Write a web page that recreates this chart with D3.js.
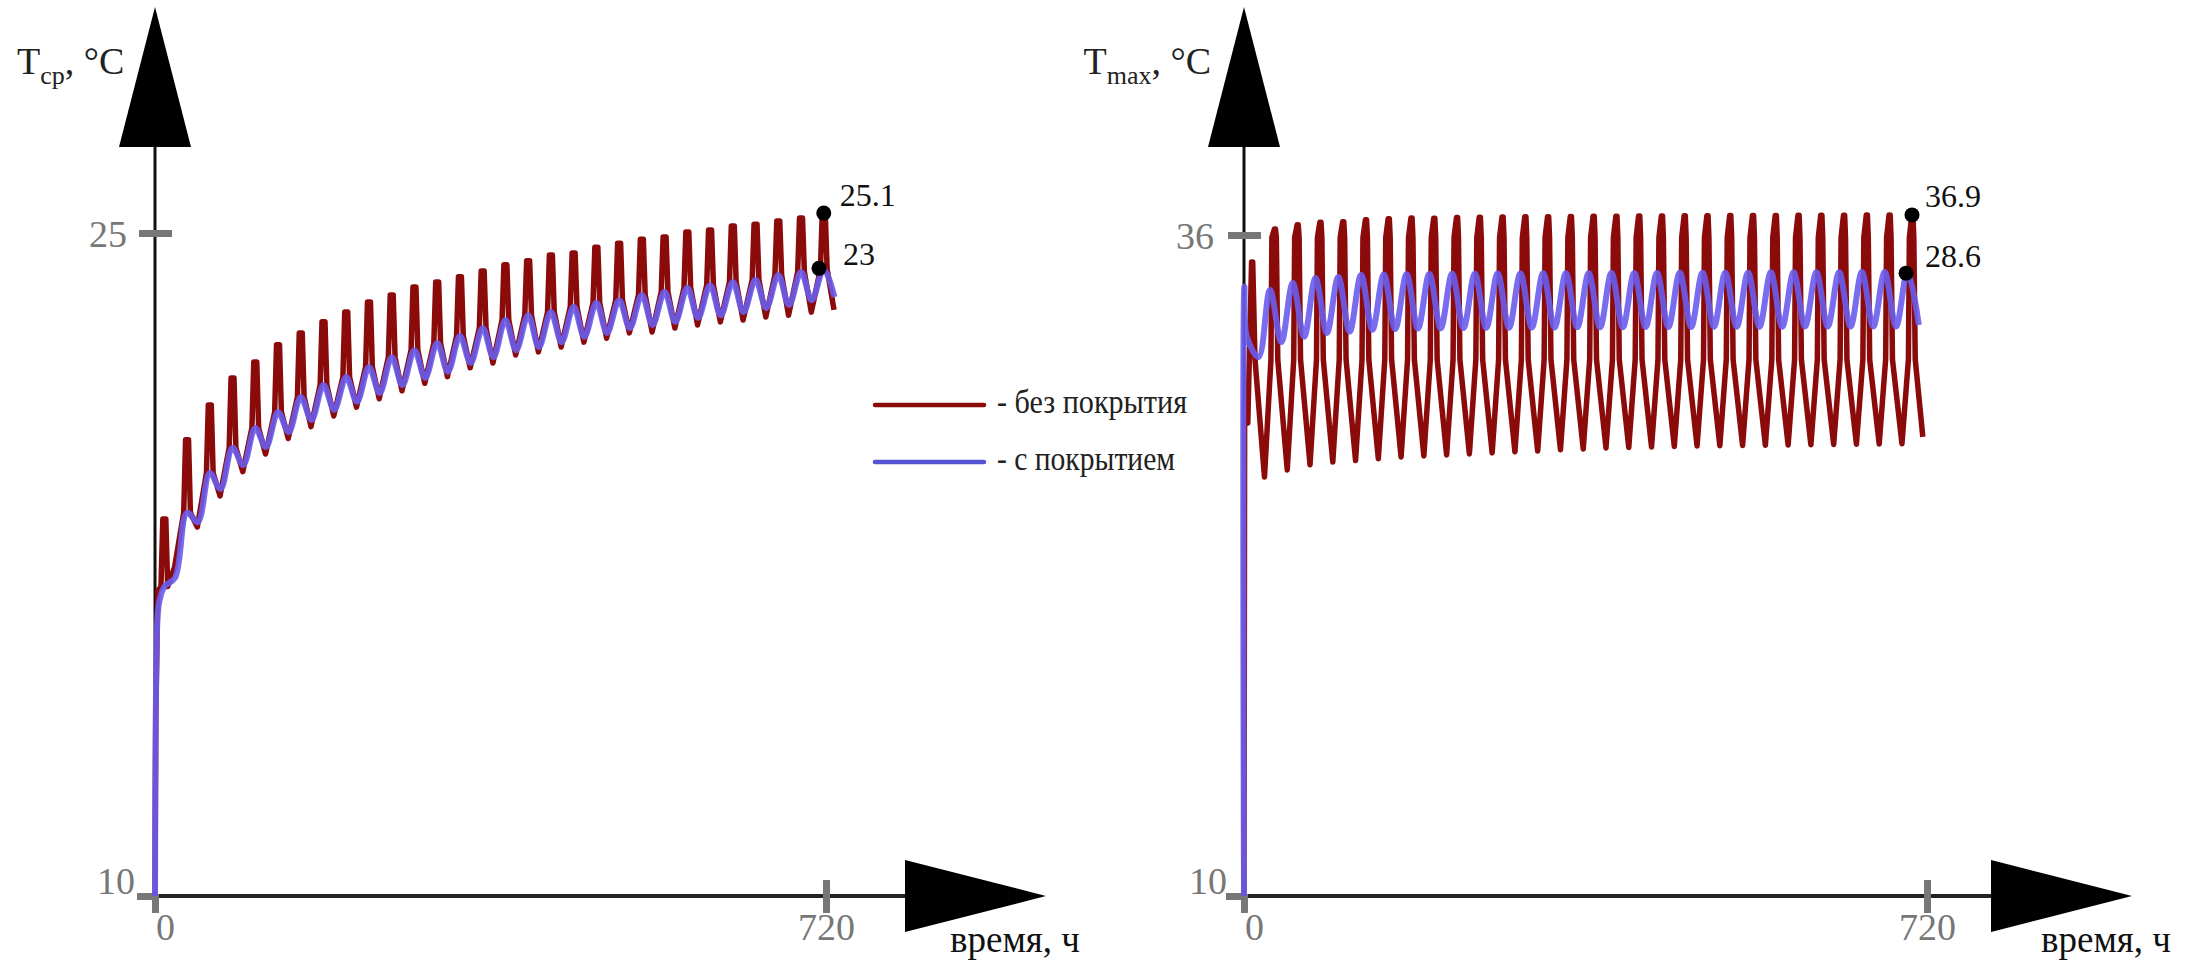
<!DOCTYPE html>
<html>
<head>
<meta charset="utf-8">
<script src="https://cdnjs.cloudflare.com/ajax/libs/d3/7.8.5/d3.min.js"></script>
<style>
  body { margin: 0; background: #fff; }
</style>
</head>
<body>
<svg id="chart" width="2201" height="965"></svg>
<script>
// ---- data ----
// left panel: T_ср, one value per daily cycle
const leftCycle = 24.4;          // hours between spikes (as read against the left axis)
const leftPeakHour = 10;         // hour of the first spike
const leftRedStart = [[0, 10], [0.8, 14.0], [3, 16.9]];
const leftRedPeak = [18.53, 20.32, 21.11, 21.72, 22.08, 22.47, 22.74, 22.99, 23.21, 23.44,
                     23.60, 23.78, 23.89, 24.01, 24.14, 24.28, 24.37, 24.50, 24.55, 24.68,
                     24.77, 24.86, 24.91, 25.02, 25.07, 25.16, 25.20, 25.27, 25.34, 25.45];
const leftRedLow = [17.44, 18.35, 19.05, 19.60, 20.00, 20.35, 20.62, 20.86, 21.06, 21.25,
                    21.43, 21.60, 21.75, 21.95, 22.06, 22.24, 22.31, 22.42, 22.53, 22.62,
                    22.74, 22.76, 22.85, 22.92, 22.99, 23.03, 23.10, 23.14, 23.21, 23.26];
const leftBlueStart = [[0, 10], [0.8, 14.0], [3, 16.4], [5, 16.7]];
const leftBluePeak = [17.00, 18.67, 19.57, 20.14, 20.59, 20.95, 21.29, 21.56, 21.74, 21.97,
                      22.19, 22.35, 22.51, 22.67, 22.85, 23.03, 23.14, 23.21, 23.33, 23.42,
                      23.48, 23.60, 23.67, 23.76, 23.82, 23.89, 23.94, 24.05, 24.12, 24.18];
const leftBlueLow = [17.20, 18.46, 19.21, 19.75, 20.16, 20.50, 20.77, 21.00, 21.18, 21.38,
                     21.56, 21.72, 21.86, 22.06, 22.19, 22.35, 22.42, 22.53, 22.65, 22.74,
                     22.85, 22.92, 22.99, 23.08, 23.14, 23.21, 23.30, 23.37, 23.48, 23.55];
const leftMarks = [[717.6, 25.45, "25.1"], [712.5, 24.2, "23"]];

// right panel: T_max
const rightCycle = 24;
const rightPeakHour = 8.6;
const rightRedStart = [[0, 10], [0.7, 29.5], [4, 28.6]];
const rightRedPeak = [34.94, 36.24, 36.40, 36.50, 36.52, 36.60, 36.64, 36.67, 36.66, 36.69,
                      36.70, 36.71, 36.72, 36.72, 36.73, 36.74, 36.74, 36.75, 36.75, 36.76,
                      36.76, 36.77, 36.77, 36.77, 36.78, 36.78, 36.78, 36.79, 36.79, 36.79];
const rightRedLow = [26.48, 26.76, 26.96, 27.07, 27.13, 27.20, 27.27, 27.31, 27.35, 27.39,
                     27.43, 27.47, 27.50, 27.55, 27.58, 27.62, 27.64, 27.66, 27.68, 27.70,
                     27.71, 27.72, 27.73, 27.74, 27.75, 27.76, 27.77, 27.78, 27.79, 28.06];
const rightRedStep = [35.9, 31.1];   // the two shelves on each flank
const rightBlueStart = [[0, 10], [0.4, 33.96], [3, 32.0]];
const rightBluePeak = [33.84, 34.11, 34.31, 34.35, 34.43, 34.45, 34.46, 34.47, 34.48, 34.48,
                       34.49, 34.49, 34.50, 34.50, 34.50, 34.51, 34.51, 34.51, 34.52, 34.52,
                       34.52, 34.52, 34.53, 34.53, 34.53, 34.53, 34.54, 34.54, 34.54];
const rightBlueLow = [31.20, 31.79, 32.00, 32.15, 32.20, 32.27, 32.30, 32.32, 32.33, 32.34,
                      32.35, 32.35, 32.36, 32.36, 32.37, 32.37, 32.37, 32.38, 32.38, 32.38,
                      32.39, 32.39, 32.39, 32.39, 32.40, 32.40, 32.40, 32.40, 32.40, 32.46];
const rightMarks = [[704.2, 36.79, "36.9"], [697.9, 34.5, "28.6"]];

const xTicks = [0, 720];
const legendLabels = ["- без покрытия", "- с покрытием"];
const RED = "#8b0a0a", BLUE = "#6a5cec";
const FONT = "'Liberation Serif', 'Times New Roman', serif";

// ---- build point lists ----
function leftRed() {
  const pts = leftRedStart.slice();
  leftRedPeak.forEach((v, k) => {
    const p = leftPeakHour + k * leftCycle;
    pts.push([p - 3.6, leftBluePeak[k]], [p - 1.6, v], [p + 1.6, v],
             [p + 3.6, leftBluePeak[k]], [p + 11, leftRedLow[k]]);
  });
  return pts;
}
function leftBlue() {
  const pts = leftBlueStart.slice();
  leftBluePeak.forEach((v, k) => {
    const p = leftPeakHour + k * leftCycle;
    pts.push([p, v], [p + 11.5, leftBlueLow[k]]);
  });
  return pts;
}
function rightRed() {
  const pts = rightRedStart.slice();
  const n = rightRedPeak.length;
  rightRedPeak.forEach((v, k) => {
    const p = rightPeakHour + k * rightCycle;
    if (k > 0) pts.push([p - 4.2, rightRedStep[1]], [p - 3.2, rightRedStep[0]]);
    pts.push([p - 0.6, v], [p + 0.6, v]);
    if (v > rightRedStep[0]) pts.push([p + 1.5, rightRedStep[0]]);
    pts.push([p + 3, rightRedStep[1]]);
    pts.push([p + (k < n - 1 ? 13 : 11), rightRedLow[k]]);
  });
  return pts;
}
function rightBlue() {
  const pts = rightBlueStart.slice();
  rightBlueLow.forEach((v, k) => {
    pts.push([15.4 + k * rightCycle, v]);
    if (k < rightBluePeak.length) pts.push([27.4 + k * rightCycle, rightBluePeak[k]]);
  });
  return pts;
}

// ---- drawing ----
const svg = d3.select("#chart").style("font-family", FONT);

function txt(sel) { return sel.style("font-family", FONT); }

function drawPanel(cfg) {
  const g = svg.append("g");
  const x = d3.scaleLinear().domain([0, 720]).range([cfg.x0, cfg.x720]);
  const y = d3.scaleLinear().domain([10, cfg.yTop]).range([896, cfg.yTopPx]);
  const ox = x(0), oy = y(10);

  // axis lines and arrows
  g.append("line").attr("x1", ox).attr("x2", ox).attr("y1", oy).attr("y2", 146)
    .attr("stroke", "#111").attr("stroke-width", 3);
  g.append("line").attr("x1", ox).attr("x2", cfg.arrowX).attr("y1", oy).attr("y2", oy)
    .attr("stroke", "#222").attr("stroke-width", 4);
  g.append("polygon").attr("fill", "#000")
    .attr("points", `${ox},7 ${ox - 36},147 ${ox + 36},147`);
  g.append("polygon").attr("fill", "#000")
    .attr("points", `${cfg.arrowX},${oy - 36} ${cfg.arrowX},${oy + 36} ${cfg.arrowX + 141},${oy}`);

  // y axis ticks
  const ya = g.append("g").attr("transform", `translate(${ox},0)`)
    .call(d3.axisLeft(y).tickValues([10, cfg.yTop]).tickFormat(d3.format("d")));
  ya.attr("font-family", null).attr("font-size", null);
  ya.select(".domain").remove();
  ya.selectAll(".tick line")
    .attr("x1", d => d === 10 ? -18 : -16).attr("x2", d => d === 10 ? 2 : 17)
    .attr("stroke", "#777").attr("stroke-width", 7);
  txt(ya.selectAll(".tick text"))
    .attr("fill", "#777").style("font-size", "38px").attr("text-anchor", "end").attr("dy", null)
    .attr("x", d => d === 10 ? -cfg.lab10dx : -cfg.labTopDx)
    .attr("y", d => d === 10 ? -3 : 13);

  // x axis ticks
  const xa = g.append("g").attr("transform", `translate(0,${oy})`)
    .call(d3.axisBottom(x).tickValues(xTicks).tickFormat(d3.format("d")));
  xa.attr("font-family", null).attr("font-size", null);
  xa.select(".domain").remove();
  xa.selectAll(".tick line")
    .attr("y1", d => d === 0 ? -2 : -16).attr("y2", 17)
    .attr("stroke", "#777").attr("stroke-width", 7);
  txt(xa.selectAll(".tick text"))
    .attr("fill", "#777").style("font-size", "38px").attr("dy", null)
    .attr("x", d => d === 0 ? 10 : 0).attr("y", 44);

  // series
  g.append("path").datum(cfg.red)
    .attr("d", d3.line().x(d => x(d[0])).y(d => y(d[1])))
    .attr("fill", "none").attr("stroke", RED).attr("stroke-width", 5.5)
    .attr("stroke-linejoin", "round");
  g.append("path").datum(cfg.blue)
    .attr("d", d3.line().x(d => x(d[0])).y(d => y(d[1])).curve(d3.curveCatmullRom))
    .attr("fill", "none").attr("stroke", BLUE).attr("stroke-width", 6)
    .attr("stroke-opacity", 0.9).attr("stroke-linejoin", "round");

  // marked values
  cfg.marks.forEach((m, i) => {
    g.append("circle").attr("cx", x(m[0])).attr("cy", y(m[1])).attr("r", 7.5).attr("fill", "#000");
    txt(g.append("text")).attr("x", x(m[0]) + cfg.markDx[i]).attr("y", y(m[1]) + cfg.markDy[i])
      .style("font-size", "32px").attr("fill", "#111").text(m[2]);
  });

  // axis titles
  const t = txt(g.append("text")).attr("x", cfg.titleX).attr("y", 74)
    .attr("text-anchor", cfg.titleAnchor).style("font-size", "38px").attr("fill", "#222");
  t.append("tspan").text("T");
  t.append("tspan").attr("dy", 10).style("font-size", "26px").text(cfg.sub);
  t.append("tspan").attr("dy", -10).text(", °C");

  txt(g.append("text")).attr("x", cfg.xTitleX).attr("y", 952)
    .style("font-size", "37px").attr("fill", "#111").text("время, ч");
}

drawPanel({
  x0: 155, x720: 826, yTop: 25, yTopPx: 233, arrowX: 905, xTitleX: 950,
  lab10dx: 20, labTopDx: 28, red: leftRed(), blue: leftBlue(),
  marks: leftMarks, markDx: [16, 24], markDy: [-7, -3],
  titleX: 17, titleAnchor: "start", sub: "ср"
});
drawPanel({
  x0: 1244, x720: 1927, yTop: 36, yTopPx: 235, arrowX: 1991, xTitleX: 2041,
  lab10dx: 17, labTopDx: 30, red: rightRed(), blue: rightBlue(),
  marks: rightMarks, markDx: [13, 19], markDy: [-8, -6],
  titleX: 1211, titleAnchor: "end", sub: "max"
});

// legend
const legColors = [RED, "#5552d4"];
const legWidths = [190, 178];
const leg = svg.append("g");
legendLabels.forEach((s, i) => {
  const ly = 405 + i * 57;
  leg.append("line").attr("x1", 875).attr("x2", 984).attr("y1", ly).attr("y2", ly)
    .attr("stroke", legColors[i]).attr("stroke-width", 4.5).attr("stroke-linecap", "round");
  txt(leg.append("text")).attr("x", 997).attr("y", ly + 8)
    .attr("textLength", legWidths[i]).attr("lengthAdjust", "spacingAndGlyphs")
    .style("font-size", "34px").attr("fill", "#222").text(s);
});
</script>
</body>
</html>
